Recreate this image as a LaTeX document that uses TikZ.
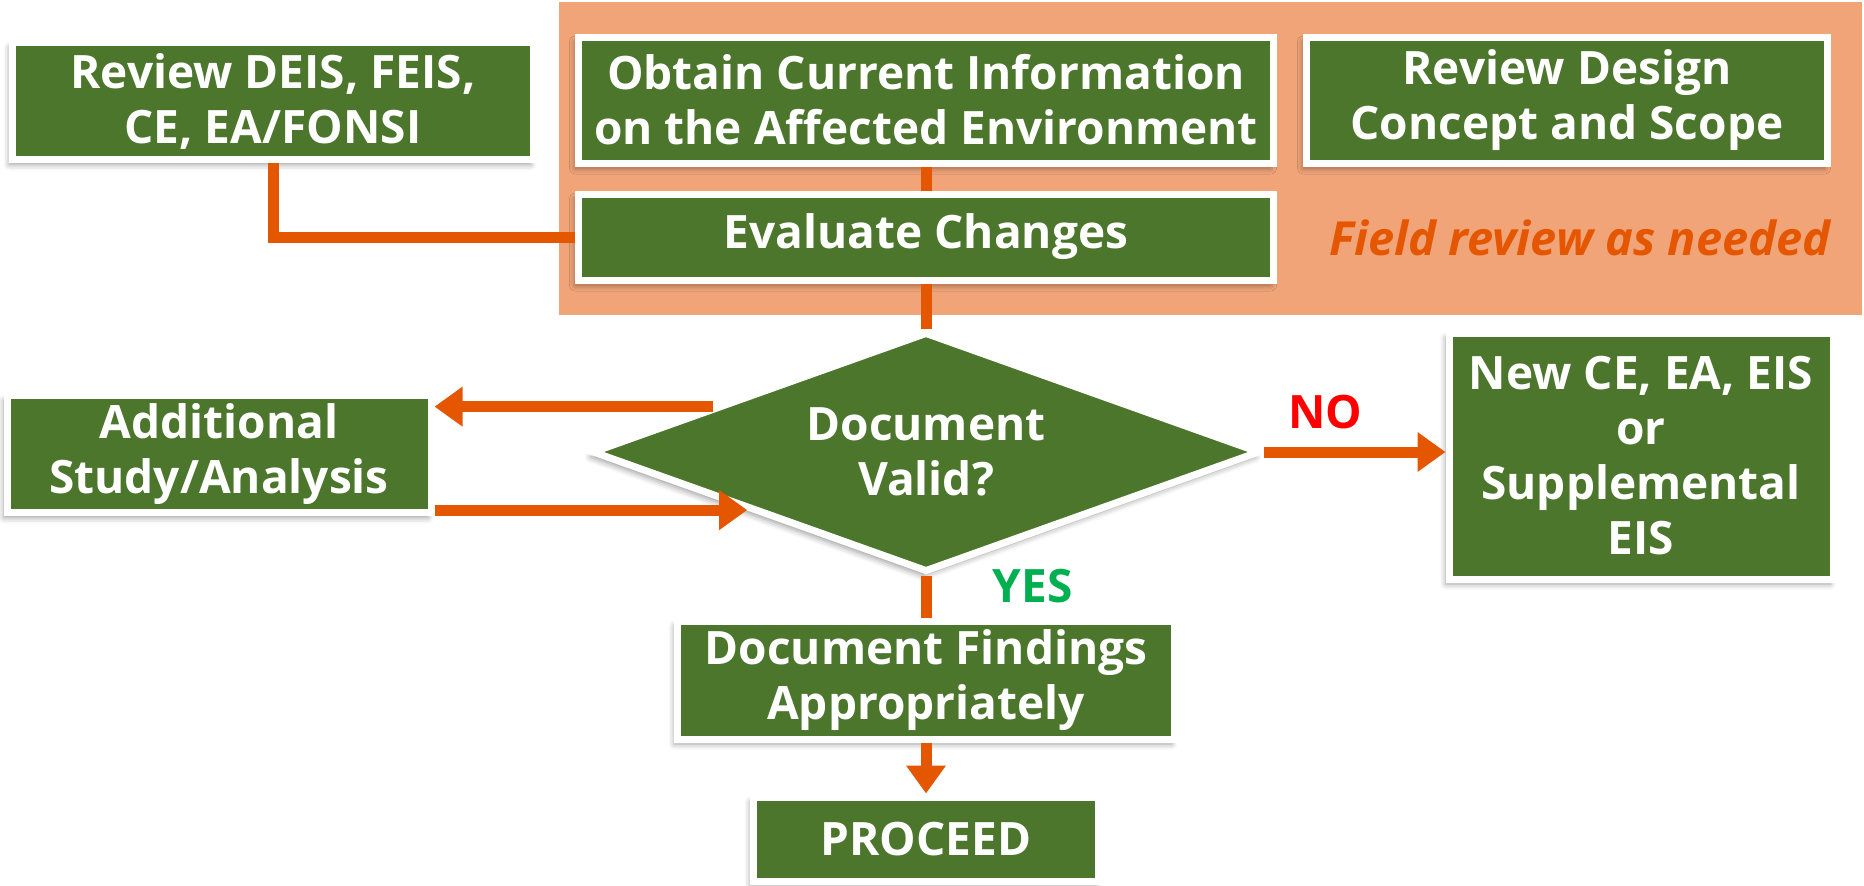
\documentclass[tikz,border=0pt]{standalone}
\usepackage{fontspec}
\setmainfont{Open Sans}
\usetikzlibrary{shapes.geometric,arrows.meta,shadows.blur}
\definecolor{boxgreen}{RGB}{75,118,43}
\definecolor{bandorange}{RGB}{240,164,120}
\definecolor{linkorange}{RGB}{229,86,0}
\definecolor{yesgreen}{RGB}{0,176,80}
\begin{document}
\begin{tikzpicture}[
    x=1pt, y=-1pt,
    box/.style={draw=white, line width=7pt, fill=boxgreen, text=white, align=center,
      inner sep=0pt, font=\bfseries\fontsize{46}{55}\selectfont,
      blur shadow={shadow xshift=-3pt, shadow yshift=-5pt, shadow blur radius=6pt, shadow opacity=40}},
    decision/.style={box, diamond, aspect=2.7, minimum width=668pt, minimum height=240pt},
    link/.style={draw=linkorange, line width=11pt},
    arrow/.style={link, -{Triangle[length=28pt,width=38pt]}},
    tag/.style={font=\bfseries\fontsize{46}{55}\selectfont}
  ]
  \useasboundingbox (0,0) rectangle (1864,886);
  \fill[bandorange] (559,2) rectangle (1862,315);
  \node[tag, text=linkorange, font=\bfseries\itshape\fontsize{47}{55}\selectfont] (field) at (1580,238) {Field review as needed};

  \node[box, minimum width=521pt, minimum height=117pt] (deis) at (273,101) {Review DEIS, FEIS,\\CE, EA/FONSI};
  \node[box, minimum width=695pt, minimum height=126pt] (obtain) at (926,100) {Obtain Current Information\\on the Affected Environment};
  \node[box, minimum width=521pt, minimum height=126pt] (design) at (1567,100) {Review Design\\Concept and Scope};
  \node[box, minimum width=695pt, minimum height=86pt] (evaluate) at (926,237) {Evaluate Changes};
  \node[decision] (valid) at (926,452) {Document\\Valid?};
  \node[box, minimum width=424pt, minimum height=117pt] (study) at (219,454) {Additional\\Study/Analysis};
  \node[box, minimum width=384pt, minimum height=246pt] (newdoc) at (1641,456) {New CE, EA, EIS\\or\\Supplemental\\EIS};
  \node[box, minimum width=497pt, minimum height=118pt] (findings) at (926,680) {Document Findings\\Appropriately};
  \node[box, minimum width=345pt, minimum height=84pt] (proceed) at (926,839) {PROCEED};

  \draw[link] (deis.south) |- (evaluate.west);
  \draw[link] (obtain.south) -- (evaluate.north);
  \draw[link] (evaluate.south) -- (valid.north);
  \draw[arrow] (valid.168) -- (study.east |- valid.168);
  \draw[arrow] (study.east |- valid.198) -- (valid.198);
  \draw[arrow] (valid.east) -- (newdoc.west |- valid.east)
    node[tag, text=red, pos=0.34, above=14pt] {NO};
  \draw[link] (valid.south) -- (findings.north)
    node[tag, text=yesgreen, pos=0.25, right=58pt] {YES};
  \draw[arrow] (findings.south) -- (proceed.north);
\end{tikzpicture}
\end{document}
